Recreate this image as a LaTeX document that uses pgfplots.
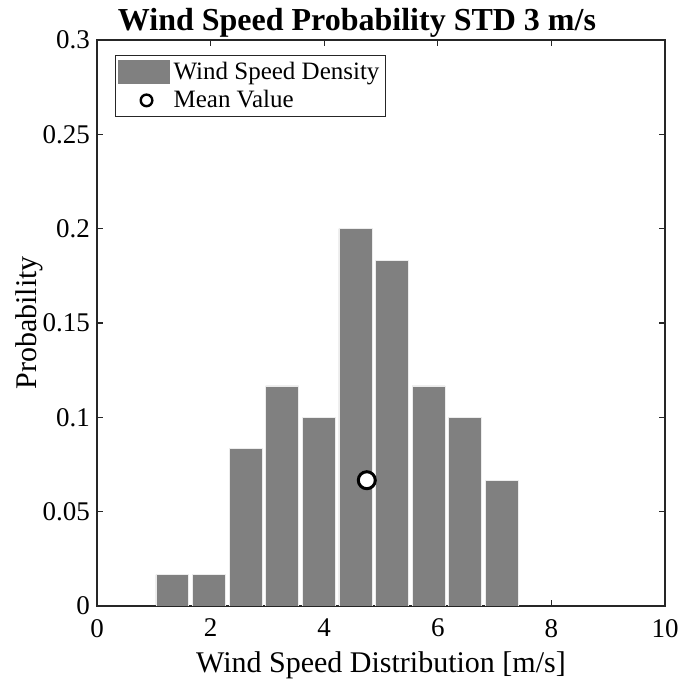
\documentclass[border=0pt]{standalone}
\usepackage{pgfplots}
\pgfplotsset{compat=1.18}
\usepackage{fontspec}
\setmainfont{Liberation Serif}
\definecolor{bargray}{RGB}{128,128,128}
\definecolor{axgray}{RGB}{38,38,38}
\begin{document}
\begin{tikzpicture}
\begin{axis}[
  scale only axis,
  width=284pt, height=283pt,
  xmin=0, xmax=10, ymin=0, ymax=0.3,
  xtick={0,2,4,6,8,10},
  ytick={0,0.05,0.1,0.15,0.2,0.25,0.3},
  yticklabels={0,0.05,0.1,0.15,0.2,0.25,0.3},
  tick align=inside,
  major tick length=3pt,
  axis line style={axgray, line width=0.6pt},
  tick style={axgray, line width=0.6pt},
  /pgf/number format/assume math mode=true,
  ticklabel style={font=\fontsize{13.5}{15}\selectfont},
  xticklabel style={yshift=-3pt},
  title={\textbf{Wind Speed Probability STD 3 m/s}},
  title style={font=\fontsize{16}{18}\selectfont, yshift=-8pt, xshift=-12pt},
  xlabel={Wind Speed Distribution [m/s]},
  ylabel={Probability},
  label style={font=\fontsize{15}{17}\selectfont},
  xlabel style={yshift=-0.5pt},
  ylabel style={yshift=-7pt},
  legend style={at={(0.032,0.973)}, anchor=north west, draw=axgray, line width=0.6pt,
    font=\fontsize{12.5}{14}\selectfont, inner sep=1pt, row sep=0pt},
  legend cell align=left,
]
\addplot[ybar, bar width=0.58, bar shift=0pt, fill=bargray, draw=white!85!gray, line width=0.3pt,
  legend image code/.code={\fill[bargray] (0.1cm,-0.2cm) rectangle (1.0cm,0.2cm);}]
coordinates {
 (1.326,0.016667) (1.971,0.016667) (2.615,0.083333) (3.260,0.116667) (3.904,0.1)
 (4.549,0.2) (5.194,0.183333) (5.838,0.116667) (6.483,0.1) (7.127,0.066667)
};
\addlegendentry{Wind Speed Density}
\addplot[only marks, mark=*, mark size=4.25pt, mark options={fill=white, draw=black, line width=1.5pt},
  legend image code/.code={\draw[only marks, mark=*, mark size=2.9pt, mark options={fill=white, draw=black, line width=1.2pt}] plot coordinates {(0.6cm,0cm)};}]
coordinates {(4.75,0.066667)};
\addlegendentry{Mean Value}
\end{axis}
\pgfresetboundingbox
\path (current axis.south west) ++(-48.5pt,-38.5pt) rectangle ([shift={(9pt,20pt)}]current axis.north east);
\end{tikzpicture}
\end{document}
